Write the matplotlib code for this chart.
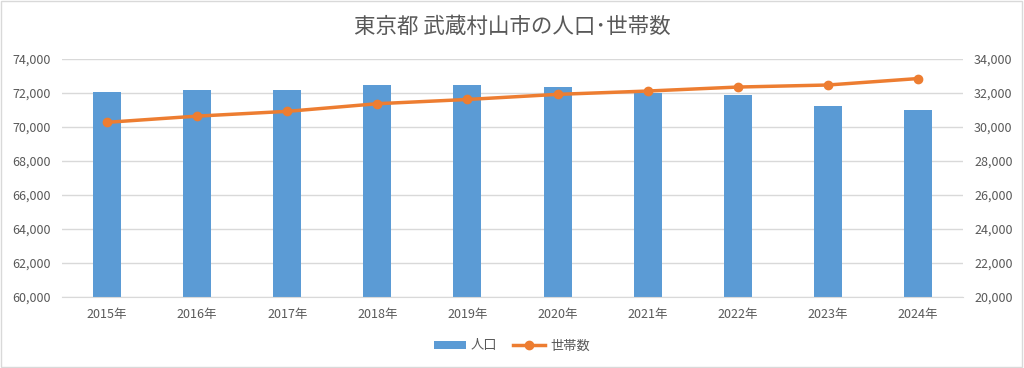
import matplotlib
matplotlib.use('Agg')
import matplotlib.pyplot as plt
from matplotlib.ticker import FuncFormatter, MultipleLocator
from matplotlib.patches import Rectangle

plt.rcParams['font.family'] = ['Noto Sans CJK JP', 'DejaVu Sans']

years = ['2015年', '2016年', '2017年', '2018年', '2019年',
         '2020年', '2021年', '2022年', '2023年', '2024年']
population = [72080, 72190, 72190, 72470, 72500, 72330, 72010, 71880, 71260, 71000]
households = [30275, 30640, 30920, 31370, 31620, 31920, 32115, 32350, 32470, 32850]

bar_color = '#5B9BD5'
line_color = '#ED7D31'
text_color = '#595959'
grid_color = '#D9D9D9'

fig = plt.figure(figsize=(10.24, 3.68), dpi=100)
ax = fig.add_axes([62 / 1024, 1 - 297 / 368, (963 - 62) / 1024, (297 - 59) / 368])
ax2 = ax.twinx()

x = list(range(len(years)))
ax.bar(x, population, width=0.31, color=bar_color, zorder=2, label='人口')
ax2.plot(x, households, color=line_color, lw=2.5, marker='o', ms=6, zorder=3, label='世帯数')

ax.set_xlim(-0.5, len(years) - 0.5)
ax.set_ylim(60000, 74000)
ax2.set_ylim(20000, 34000)
ax.yaxis.set_major_locator(MultipleLocator(2000))
ax2.yaxis.set_major_locator(MultipleLocator(2000))
fmt = FuncFormatter(lambda v, p: f'{int(v):,}')
ax.yaxis.set_major_formatter(fmt)
ax2.yaxis.set_major_formatter(fmt)
ax.set_xticks(x)
ax.set_xticklabels(years)

ax.grid(axis='y', color=grid_color, lw=1, zorder=0)
ax.set_axisbelow(True)
for a in (ax, ax2):
    for s in a.spines.values():
        s.set_visible(False)
    a.tick_params(length=0, colors=text_color, labelsize=9)
ax.spines['bottom'].set_visible(True)
ax.spines['bottom'].set_color(grid_color)
ax.tick_params(axis='x', pad=8)
ax.tick_params(axis='y', pad=8)
ax2.tick_params(axis='y', pad=8)

fig.text(0.5, 1 - 27 / 368, '東京都 武蔵村山市の人口･世帯数', ha='center', va='center',
         fontsize=15.5, color=text_color)

h1, l1 = ax.get_legend_handles_labels()
h2, l2 = ax2.get_legend_handles_labels()
fig.legend(h1 + h2, l1 + l2, loc='center', bbox_to_anchor=(0.5, 1 - 346 / 368),
           ncol=2, frameon=False, fontsize=9.5, labelcolor=text_color,
           handlelength=2.4, handleheight=0.6, handletextpad=0.4, columnspacing=1.2)

fig.patches.append(Rectangle((0.001, 0.002), 0.997, 0.995, transform=fig.transFigure,
                             fill=False, edgecolor='#D9D9D9', lw=1))

fig.savefig('out.png', dpi=100)
